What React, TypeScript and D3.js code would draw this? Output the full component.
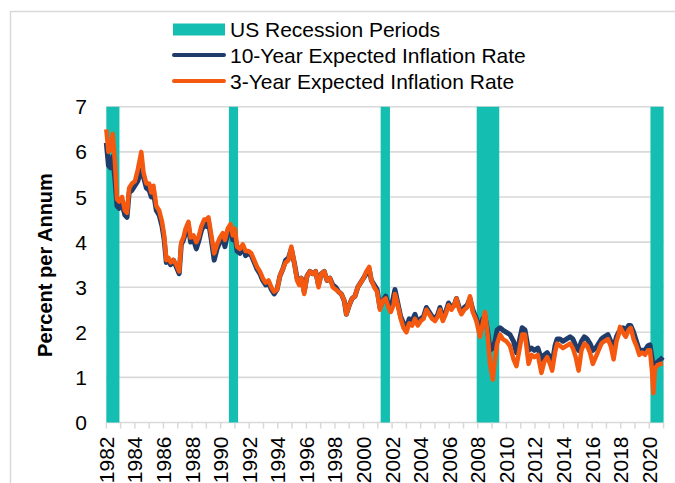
import { useMemo } from 'react';
import * as d3 from 'd3';

// decimal year of each reading
const dates = [
  1982.0, 1982.15, 1982.3, 1982.45, 1982.6, 1982.75, 1982.9, 1983.1, 1983.3, 1983.45,
  1983.6, 1983.8, 1984.0, 1984.2, 1984.45, 1984.6, 1984.8, 1985.0, 1985.15, 1985.3,
  1985.5, 1985.7, 1985.9, 1986.05, 1986.2, 1986.35, 1986.5, 1986.7, 1986.9, 1987.1,
  1987.25, 1987.4, 1987.55, 1987.75, 1987.9, 1988.1, 1988.3, 1988.45, 1988.65, 1988.85,
  1989.0, 1989.15, 1989.35, 1989.55, 1989.75, 1989.95, 1990.15, 1990.3, 1990.5, 1990.7,
  1990.85, 1991.0, 1991.15, 1991.35, 1991.55, 1991.75, 1991.95, 1992.15, 1992.35, 1992.55,
  1992.75, 1992.95, 1993.15, 1993.35, 1993.55, 1993.75, 1993.95, 1994.15, 1994.35, 1994.55,
  1994.75, 1994.95, 1995.15, 1995.35, 1995.5, 1995.65, 1995.85, 1996.05, 1996.25, 1996.45,
  1996.65, 1996.85, 1997.05, 1997.25, 1997.45, 1997.65, 1997.85, 1998.05, 1998.25, 1998.45,
  1998.65, 1998.8, 1999.0, 1999.2, 1999.4, 1999.6, 1999.8, 2000.0, 2000.2, 2000.4,
  2000.55, 2000.75, 2000.95, 2001.15, 2001.35, 2001.55, 2001.75, 2001.9, 2002.1, 2002.2,
  2002.4, 2002.6, 2002.8, 2003.0, 2003.2, 2003.4, 2003.6, 2003.8, 2004.0, 2004.2,
  2004.4, 2004.6, 2004.8, 2005.0, 2005.2, 2005.35, 2005.55, 2005.75, 2005.95, 2006.15,
  2006.35, 2006.5, 2006.7, 2006.85, 2007.05, 2007.25, 2007.45, 2007.65, 2007.9, 2008.15,
  2008.35, 2008.5, 2008.7, 2008.85, 2009.05, 2009.2, 2009.35, 2009.55, 2009.75, 2010.0,
  2010.25, 2010.5, 2010.7, 2010.9, 2011.1, 2011.3, 2011.55, 2011.75, 2011.95, 2012.2,
  2012.45, 2012.65, 2012.85, 2013.05, 2013.2, 2013.4, 2013.55, 2013.75, 2013.95, 2014.2,
  2014.45, 2014.65, 2014.85, 2015.05, 2015.25, 2015.45, 2015.65, 2015.85, 2016.05, 2016.25,
  2016.45, 2016.65, 2016.85, 2017.1, 2017.3, 2017.5, 2017.7, 2017.85, 2017.95, 2018.15,
  2018.35, 2018.55, 2018.7, 2018.9, 2019.1, 2019.3, 2019.5, 2019.7, 2019.9, 2020.05,
  2020.2, 2020.28, 2020.4, 2020.6, 2020.8, 2020.95,
];

const tenYear = [
  6.2, 5.7, 5.65, 5.9, 5.4, 4.8, 4.75, 4.85, 4.6, 4.55,
  5.1, 5.15, 5.25, 5.35, 5.6, 5.45, 5.2, 5.15, 5.0, 5.1,
  4.7, 4.6, 4.35, 4.05, 3.55, 3.6, 3.5, 3.6, 3.45, 3.3,
  3.95, 4.05, 4.2, 4.35, 4.0, 4.05, 3.85, 4.0, 4.25, 4.4,
  4.35, 4.45, 4.05, 3.6, 3.85, 4.0, 4.1, 3.9, 4.2, 4.3,
  4.05, 4.15, 3.8, 3.75, 3.9, 3.7, 3.75, 3.7, 3.55, 3.4,
  3.3, 3.15, 3.05, 3.1, 2.95, 2.85, 2.95, 3.25, 3.4, 3.6,
  3.65, 3.85, 3.55, 3.2, 3.1, 3.2, 2.9, 3.25, 3.35, 3.3,
  3.35, 3.05, 3.3, 3.35, 3.15, 3.2, 3.05, 3.0, 2.9, 2.85,
  2.7, 2.4, 2.6, 2.75, 2.8, 3.0, 3.1, 3.2, 3.3, 3.4,
  3.15, 3.05, 2.95, 2.55, 2.7, 2.8, 2.6, 2.5, 2.8, 2.95,
  2.65, 2.35, 2.2, 2.1, 2.3, 2.25, 2.4, 2.2, 2.3, 2.35,
  2.55, 2.45, 2.35, 2.3, 2.4, 2.55, 2.3, 2.45, 2.65, 2.55,
  2.6, 2.75, 2.55, 2.45, 2.55, 2.6, 2.75, 2.5, 2.3, 2.05,
  2.3, 2.35, 2.0, 1.6, 1.65, 1.8, 2.05, 2.1, 2.05, 2.0,
  1.95, 1.8, 1.55, 1.8, 2.1, 2.05, 1.6, 1.65, 1.6, 1.65,
  1.4, 1.5, 1.55, 1.45, 1.3, 1.7, 1.85, 1.85, 1.8, 1.85,
  1.9, 1.85, 1.7, 1.6, 1.8, 1.9, 1.85, 1.75, 1.6, 1.65,
  1.75, 1.85, 1.9, 1.95, 1.8, 1.65, 1.9, 2.0, 2.05, 2.1,
  2.05, 2.15, 2.15, 2.0, 1.8, 1.6, 1.6, 1.6, 1.7, 1.72,
  1.4, 1.15, 1.3, 1.35, 1.4, 1.45,
];

const threeYear = [
  6.5, 6.0, 6.05, 6.4, 5.8, 4.95, 4.9, 5.0, 4.7, 4.65,
  5.2, 5.3, 5.35, 5.6, 6.0, 5.55, 5.3, 5.3, 5.1, 5.25,
  4.8, 4.7, 4.45, 4.15, 3.6, 3.65, 3.55, 3.6, 3.5, 3.35,
  4.0, 4.1, 4.3, 4.45, 4.1, 4.15, 4.0, 4.1, 4.35, 4.5,
  4.5, 4.55, 4.15, 3.75, 3.95, 4.1, 4.2, 4.05, 4.3, 4.4,
  4.15, 4.3, 3.9, 3.85, 3.95, 3.8, 3.8, 3.75, 3.6, 3.45,
  3.35, 3.2, 3.1, 3.15, 3.0, 2.9, 2.95, 3.25, 3.4, 3.55,
  3.6, 3.9, 3.55, 3.15, 3.05, 3.2, 2.85, 3.25, 3.35, 3.3,
  3.35, 3.0, 3.3, 3.35, 3.15, 3.2, 3.0, 2.95, 2.9, 2.85,
  2.7, 2.4, 2.6, 2.75, 2.8, 3.0, 3.1, 3.2, 3.35, 3.45,
  3.15, 3.0, 2.9, 2.5, 2.7, 2.75, 2.55, 2.45, 2.6, 2.85,
  2.6, 2.3, 2.1, 2.0, 2.2, 2.15, 2.3, 2.15, 2.25, 2.3,
  2.5, 2.4, 2.3, 2.25, 2.35, 2.5, 2.25, 2.4, 2.6, 2.5,
  2.6, 2.75, 2.5, 2.4, 2.5, 2.55, 2.8, 2.45, 2.25, 1.9,
  2.2, 2.45, 1.9, 1.3, 0.95, 1.4, 1.75, 1.95, 1.85, 1.8,
  1.7, 1.4, 1.25, 1.6, 1.95, 1.95, 1.3, 1.5, 1.45, 1.5,
  1.1, 1.35, 1.45, 1.3, 1.15, 1.55, 1.75, 1.7, 1.65, 1.7,
  1.75, 1.65, 1.45, 1.15, 1.6, 1.75, 1.7, 1.55, 1.3, 1.45,
  1.6, 1.75, 1.8, 1.85, 1.7, 1.4, 1.8, 1.95, 2.12, 2.0,
  1.9, 2.05, 2.1, 1.85, 1.7, 1.5, 1.55, 1.5, 1.6, 1.6,
  1.1, 0.65, 1.2, 1.28, 1.3, 1.3,
];

// recession spans [start, end] in decimal years
const recessionStart = [1982.0, 1990.58, 2001.2, 2007.92, 2020.08];
const recessionEnd = [1982.92, 1991.22, 2001.85, 2009.5, 2021.0];

const yTicks = [0, 1, 2, 3, 4, 5, 6, 7];
const yearTicks = d3.range(1982, 2022);
const yearLabels = d3.range(1982, 2021, 2);

const legendItems = ['US Recession Periods', '10-Year Expected Inflation Rate', '3-Year Expected Inflation Rate'];

const TEAL = '#14bfb1';
const NAVY = '#1f3c6b';
const ORANGE = '#f5590f';
const GRID = '#d9d9d9';
const FONT = '"Liberation Sans", Arial, sans-serif';

export default function App() {
  const width = 675;
  const height = 483;
  const left = 106.3;
  const right = 663.6;
  const top = 106.8;
  const bottom = 422.5;

  const x = useMemo(() => d3.scaleLinear().domain([1982, 2021]).range([left, right]), []);
  const y = useMemo(() => d3.scaleLinear().domain([0, 7]).range([bottom, top]), []);

  const line = d3.line<number>()
    .x((_, i) => x(dates[i]))
    .y(d => y(d))
    .curve(d3.curveLinear);

  return (
    <svg
      width={width}
      height={height}
      style={{ position: 'absolute', left: 0, top: 0, background: '#fff' }}
      fontFamily={FONT}
    >
      <rect x={10.5} y={11.5} width={700} height={500} fill="none" stroke={GRID} strokeWidth={1.5} />

      {/* gridlines */}
      {yTicks.map(t => (
        <line key={t} x1={left} x2={right} y1={y(t)} y2={y(t)} stroke={GRID} strokeWidth={1.6} />
      ))}

      {/* recession bars */}
      {recessionStart.map((s, i) => (
        <rect
          key={s}
          x={x(s)}
          y={top}
          width={x(recessionEnd[i]) - x(s)}
          height={bottom - top}
          fill={TEAL}
        />
      ))}

      {/* x ticks */}
      {yearTicks.map(t => (
        <line key={t} x1={x(t)} x2={x(t)} y1={bottom} y2={bottom + 6} stroke={GRID} strokeWidth={1.5} />
      ))}
      {yearLabels.map(t => (
        <text
          key={t}
          transform={`translate(${x(t)},${bottom + 14}) rotate(-90)`}
          textAnchor="end"
          dominantBaseline="central"
          fontSize={21}
          fill="#000"
        >
          {t}
        </text>
      ))}

      {/* y labels */}
      {yTicks.map(t => (
        <text key={t} x={87} y={y(t)} textAnchor="end" dominantBaseline="central" fontSize={21} fill="#000">
          {t}
        </text>
      ))}
      <text
        transform={`translate(52,265) rotate(-90)`}
        textAnchor="middle"
        fontSize={20}
        fontWeight="bold"
        fill="#000"
      >
        Percent per Annum
      </text>

      {/* series */}
      <path d={line(tenYear) ?? ''} fill="none" stroke={NAVY} strokeWidth={5} strokeLinejoin="round" />
      <path d={line(threeYear) ?? ''} fill="none" stroke={ORANGE} strokeWidth={4.5} strokeLinejoin="round" />

      {/* legend */}
      <g fontSize={21}>
        <rect x={173} y={23.5} width={52} height={12} fill={TEAL} />
        <line x1={174} x2={224} y1={55} y2={55} stroke={NAVY} strokeWidth={4} strokeLinecap="round" />
        <line x1={174} x2={224} y1={81} y2={81} stroke={ORANGE} strokeWidth={4} strokeLinecap="round" />
        {legendItems.map((d, i) => (
          <text key={d} x={230} y={[29.5, 55, 81][i]} dominantBaseline="central" fill="#000">
            {d}
          </text>
        ))}
      </g>
    </svg>
  );
}
